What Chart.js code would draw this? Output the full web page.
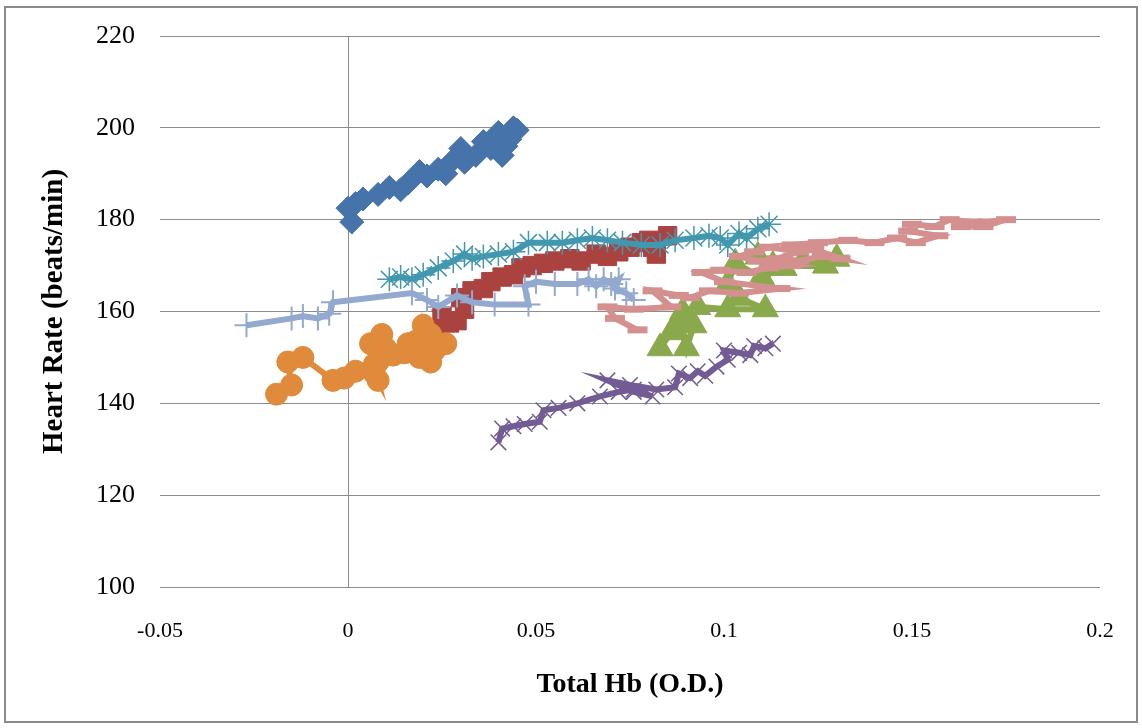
<!DOCTYPE html>
<html>
<head>
<meta charset="utf-8">
<script src="https://cdn.jsdelivr.net/npm/chart.js@4/dist/chart.umd.min.js"></script>
<style>
  html, body { margin: 0; padding: 0; background: #fff; }
</style>
</head>
<body>
<canvas id="chart" width="1142" height="728"></canvas>
<script>
// Axis tick labels
const xTickLabels = ['-0.05', '0', '0.05', '0.1', '0.15', '0.2'];
const yTickLabels = ['100', '120', '140', '160', '180', '200', '220'];

// Total Hb (O.D.) vs heart rate (beats/min), one array per recording run
const run1 = [[0.000,182.5],[0.001,179.5],[0.002,183.5],[0.004,184.5],[0.008,185.5],[0.011,187],[0.014,186.5],[0.016,188],[0.019,190.5],[0.021,189.5],[0.024,191],[0.026,190],[0.028,193],[0.030,195.5],[0.031,192.5],[0.034,194],[0.036,197],[0.038,195.5],[0.040,199],[0.042,196],[0.041,194],[0.043,197.5],[0.044,200],[0.045,199.5]];
const run2 = [[0.024,156],[0.027,157.5],[0.025,159],[0.029,158],[0.031,160.5],[0.030,163],[0.033,164.5],[0.036,165],[0.038,166.5],[0.041,167.5],[0.044,168],[0.046,169.5],[0.049,170],[0.052,170.5],[0.055,171],[0.059,171.5],[0.062,171],[0.066,172.5],[0.069,172],[0.072,173],[0.075,174],[0.078,175],[0.081,174],[0.082,172.5],[0.080,175.5],[0.085,176.5]];
const run3 = [[0.083,152],[0.086,155.5],[0.088,158],[0.090,152],[0.092,157],[0.089,160],[0.093,161],[0.101,160.5],[0.111,160.5],[0.104,163],[0.101,166],[0.103,170.5],[0.110,167.5],[0.116,169.5],[0.121,171],[0.127,170],[0.130,171.5],[0.113,170],[0.109,172]];
const run4 = [[0.040,131.5],[0.041,134.5],[0.044,135],[0.047,135.5],[0.051,136],[0.052,138.5],[0.056,139],[0.061,140],[0.067,141.5],[0.072,142.5],[0.076,143],[0.081,141.5],[0.076,142.5],[0.069,145],[0.075,144],[0.082,143],[0.087,143.5],[0.088,146.5],[0.091,145.5],[0.093,147],[0.095,146],[0.098,148],[0.101,149.5],[0.100,151.5],[0.104,151],[0.107,150.5],[0.108,152.5],[0.111,152],[0.113,153]];
const run5 = [[0.011,167],[0.014,167.5],[0.017,167],[0.020,168],[0.024,169.5],[0.028,171],[0.031,172.5],[0.033,171.5],[0.036,172],[0.040,172.5],[0.044,173],[0.048,175],[0.053,175],[0.057,175],[0.061,175.5],[0.065,176],[0.069,175.5],[0.073,175],[0.078,174.5],[0.083,174.5],[0.087,175.5],[0.092,176],[0.096,176.5],[0.099,176],[0.101,174.5],[0.104,177],[0.106,176],[0.109,178],[0.112,179]];
const run6 = [[-0.019,142],[-0.015,144],[-0.016,149],[-0.012,150],[-0.004,145],[-0.001,145.5],[0.002,147],[0.007,146.5],[0.008,145],[0.007,148.5],[0.006,153],[0.009,155],[0.010,152],[0.008,149],[0.012,150.5],[0.015,151],[0.016,153],[0.019,150],[0.020,157],[0.021,154.5],[0.022,149],[0.023,151.5],[0.024,152.5],[0.026,153],[0.022,155],[0.018,153.5]];
const run7 = [[-0.027,157],[-0.015,158.5],[-0.012,159],[-0.008,158.5],[-0.005,159.5],[-0.004,162],[0.017,164],[0.021,162.5],[0.024,161],[0.029,163.5],[0.033,162],[0.039,161.5],[0.048,161.5],[0.047,165.5],[0.050,166.5],[0.055,166],[0.061,166],[0.064,167],[0.066,165.5],[0.068,167],[0.070,166],[0.072,167],[0.071,165],[0.074,164],[0.076,162.5]];
const run8 = [[0.077,156],[0.071,158.5],[0.069,161],[0.076,160.5],[0.086,161],[0.081,164.5],[0.088,163.5],[0.091,163],[0.096,164.5],[0.104,164],[0.115,165],[0.100,166.5],[0.094,168.5],[0.099,169],[0.106,168.5],[0.112,169.5],[0.118,170],[0.109,171],[0.104,172],[0.108,173],[0.112,174],[0.120,173],[0.114,171.5],[0.120,171],[0.126,172],[0.131,171.5],[0.124,173.5],[0.118,174.5],[0.125,175],[0.133,175.5],[0.140,175],[0.146,176],[0.151,175],[0.157,176.5],[0.149,177.5],[0.150,179],[0.156,178.5],[0.160,180],[0.166,179.5],[0.170,179.5],[0.175,180],[0.169,178.5],[0.163,178.5]];

const toPoints = arr => arr.map(p => ({ x: p[0], y: p[1] }));

function series(data, color, style, radius, pointBorder, order) {
  return {
    data: toPoints(data),
    showLine: true,
    borderColor: color,
    backgroundColor: color,
    borderWidth: 6,
    pointStyle: style,
    pointRadius: radius,
    pointBorderWidth: pointBorder,
    pointBackgroundColor: color,
    pointBorderColor: color,
    pointHoverRadius: radius,
    tension: 0,
    order: order
  };
}

const datasets = [
  series(run1, '#4673AA', 'rectRot', 12, 1, 7),
  series(run2, '#AA4340', 'rect', 13, 1, 6),
  series(run3, '#8AA84C', 'triangle', 15, 1, 5),
  series(run4, '#735B93', 'crossRot', 11, 1.5, 4),
  series(run5, '#4198AF', 'star', 12, 1.5, 3),
  series(run6, '#E08A3C', 'circle', 11, 1, 2),
  series(run7, '#93A9CF', 'cross', 12, 2, 1),
  series(run8, '#D4908F', 'line', 10, 7, 0)
];

const frame = {
  id: 'frame',
  beforeDraw(chart) {
    const c = chart.ctx;
    c.save();
    c.fillStyle = '#ffffff';
    c.fillRect(0, 0, chart.width, chart.height);
    c.restore();
  },
  afterDraw(chart) {
    const c = chart.ctx;
    c.save();
    c.strokeStyle = '#8a8a8a';
    c.lineWidth = 2;
    c.strokeRect(5, 7, 1132, 715);
    c.restore();
  }
};

const gridGray = '#8c8c8c';

new Chart(document.getElementById('chart'), {
  type: 'scatter',
  data: { datasets },
  plugins: [frame],
  options: {
    responsive: false,
    animation: false,
    events: [],
    layout: { autoPadding: false, padding: { left: 0, top: 36, right: 42, bottom: 0 } },
    plugins: { legend: { display: false }, tooltip: { enabled: false } },
    scales: {
      x: {
        type: 'linear',
        min: -0.05,
        max: 0.2,
        afterFit(scale) {
          scale.height = 141;
          scale.paddingLeft = 0;
          scale.paddingRight = 0;
        },
        border: { display: false },
        grid: {
          drawTicks: false,
          lineWidth: 1,
          color: ctx => (ctx.tick && Math.abs(ctx.tick.value) < 1e-9) ? gridGray : 'rgba(0,0,0,0)'
        },
        ticks: {
          stepSize: 0.05,
          padding: 31,
          color: '#000',
          maxRotation: 0,
          font: { family: 'Liberation Serif', size: 22 },
          callback: (v, i) => xTickLabels[i]
        },
        title: {
          display: true,
          text: 'Total Hb (O.D.)',
          color: '#000',
          font: { family: 'Liberation Serif', size: 28, weight: 'bold' },
          padding: { top: 0, bottom: 26 }
        }
      },
      y: {
        type: 'linear',
        min: 100,
        max: 220,
        afterFit(scale) {
          scale.width = 160;
          scale.paddingTop = 0;
          scale.paddingBottom = 0;
        },
        border: { display: false },
        grid: { drawTicks: false, color: gridGray, lineWidth: 1 },
        ticks: {
          stepSize: 20,
          padding: 25,
          color: '#000',
          font: { family: 'Liberation Serif', size: 26 },
          callback: (v, i) => yTickLabels[i]
        },
        title: {
          display: true,
          text: 'Heart Rate (beats/min)',
          color: '#000',
          font: { family: 'Liberation Serif', size: 29, weight: 'bold' },
          padding: { top: 37, bottom: 0 }
        }
      }
    }
  }
});
</script>
</body>
</html>
